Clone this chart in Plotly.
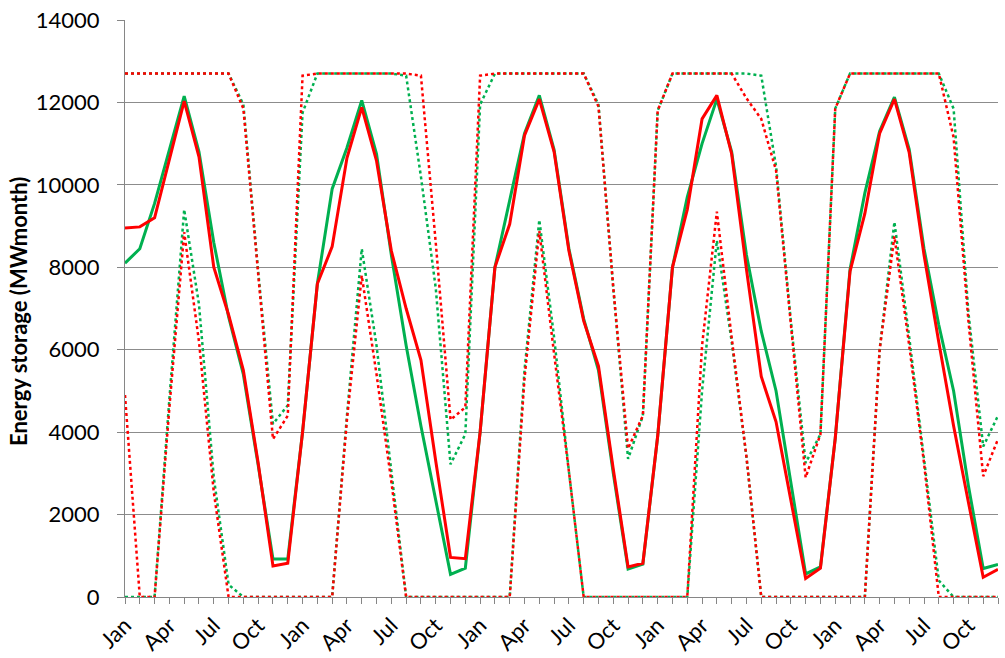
import plotly.graph_objects as go

# ---- data -----------------------------------------------------------------
month_names = ["Jan", "Feb", "Mar", "Apr", "May", "Jun",
               "Jul", "Aug", "Sep", "Oct", "Nov", "Dec"]
shown_labels = ["Jan", "Apr", "Jul", "Oct"]
n_years = 5

green_solid = [
    8100, 8450, 9550, 10850, 12150, 10800, 8600, 6800, 5400, 3200, 920, 920,
    4000, 7600, 9900, 10900, 12050, 10750, 8300, 6100, 4150, 2350, 550, 700,
    4000, 8000, 9650, 11250, 12170, 10850, 8450, 6750, 5500, 3000, 680, 800,
    3900, 8000, 9700, 11000, 12080, 10800, 8300, 6450, 5000, 2800, 560, 730,
    3850, 7950, 9800, 11300, 12130, 10860, 8450, 6600, 5000, 2700, 690, 790,
]
red_solid = [
    8950, 8980, 9200, 10650, 12030, 10680, 8000, 6850, 5500, 3250, 750, 820,
    4000, 7600, 8500, 10650, 11880, 10580, 8400, 7000, 5750, 3300, 960, 930,
    4000, 8000, 9050, 11200, 12080, 10800, 8400, 6700, 5600, 3100, 730, 820,
    3900, 8000, 9400, 11600, 12170, 10750, 7950, 5350, 4250, 2350, 450, 700,
    3850, 7900, 9300, 11250, 12080, 10780, 8300, 6180, 4150, 2300, 480, 670,
]
green_upper = [
    12700, 12700, 12700, 12700, 12700, 12700, 12700, 12700, 11950, 7900, 4200, 4650,
    11750, 12700, 12700, 12700, 12700, 12700, 12700, 12650, 10200, 7500, 3220, 3950,
    11950, 12700, 12700, 12700, 12700, 12700, 12700, 12700, 11950, 7500, 3350, 4400,
    11800, 12700, 12700, 12700, 12700, 12700, 12700, 12650, 10450, 6700, 3250, 3950,
    11850, 12700, 12700, 12700, 12700, 12700, 12700, 12700, 11850, 6900, 3650, 4400,
]
red_upper = [
    12700, 12700, 12700, 12700, 12700, 12700, 12700, 12700, 11850, 7800, 3830, 4400,
    12650, 12700, 12700, 12700, 12700, 12700, 12700, 12700, 12650, 8600, 4300, 4600,
    12650, 12700, 12700, 12700, 12700, 12700, 12700, 12700, 11900, 7500, 3600, 4400,
    11800, 12700, 12700, 12700, 12700, 12700, 12100, 11600, 10350, 6700, 2900, 3950,
    11850, 12700, 12700, 12700, 12700, 12700, 12700, 12700, 11150, 6700, 2930, 3830,
]
green_lower = [
    0, 0, 0, 4800, 9400, 7100, 2900, 300, 0, 0, 0, 0,
    0, 0, 0, 4400, 8450, 6100, 3000, 0, 0, 0, 0, 0,
    0, 0, 0, 5500, 9150, 6300, 3050, 0, 0, 0, 0, 0,
    0, 0, 0, 5000, 8650, 6200, 3400, 0, 0, 0, 0, 0,
    0, 0, 0, 6000, 9100, 6300, 3300, 400, 0, 0, 0, 0,
]
red_lower = [
    4900, 0, 0, 4600, 8850, 6200, 2550, 0, 0, 0, 0, 0,
    0, 0, 0, 4300, 7800, 5400, 2800, 0, 0, 0, 0, 0,
    0, 0, 0, 5300, 8880, 5900, 3050, 0, 0, 0, 0, 0,
    0, 0, 0, 6100, 9350, 6300, 3400, 0, 0, 0, 0, 0,
    0, 0, 0, 6000, 8750, 6100, 3250, 0, 0, 0, 0, 0,
]
y_ticks = [0, 2000, 4000, 6000, 8000, 10000, 12000, 14000]
y_tick_text = ["0", "2000", "4000", "6000", "8000", "10000", "12000", "14000"]
y_title = "Energy storage (MWmonth)"

# ---- figure ---------------------------------------------------------------
months = month_names * n_years
x = list(range(len(months)))
tick_text = [m if m in shown_labels else "" for m in months]

GREEN = "#00B050"
RED = "#FF0000"

fig = go.Figure()
for vals, col in [(green_upper, GREEN), (green_lower, GREEN),
                  (red_upper, RED), (red_lower, RED)]:
    fig.add_trace(go.Scatter(x=x, y=vals, mode="lines",
                             line=dict(color=col, width=2.5, dash="dot"),
                             hoverinfo="skip"))
for vals, col in [(green_solid, GREEN), (red_solid, RED)]:
    fig.add_trace(go.Scatter(x=x, y=vals, mode="lines",
                             line=dict(color=col, width=3),
                             hoverinfo="skip"))

fig.update_layout(
    width=1005, height=658,
    margin=dict(l=125, r=7, t=20, b=61),
    paper_bgcolor="white", plot_bgcolor="white",
    showlegend=False,
    font=dict(family="Lato, Arial, sans-serif", size=22, color="#000000"),
)
fig.update_xaxes(
    range=[0, len(months) - 1],
    tickmode="array", tickvals=x, ticktext=tick_text,
    tickangle=-45,
    ticks="outside", ticklen=6, tickcolor="#868686", tickwidth=1,
    showline=True, linecolor="#868686", linewidth=1,
    showgrid=False, zeroline=False,
    tickfont=dict(size=22),
    automargin=False,
    ticklabeloverflow="allow",
)
fig.update_yaxes(
    range=[0, 14000],
    tickmode="array", tickvals=y_ticks, ticktext=y_tick_text,
    ticks="outside", ticklen=7, tickcolor="#868686", tickwidth=1,
    showline=True, linecolor="#868686", linewidth=1,
    showgrid=True, gridcolor="#8C8C8C", gridwidth=1,
    zeroline=False,
    tickfont=dict(size=22),
    ticklabelstandoff=13,
    automargin=False,
    ticklabeloverflow="allow",
)
fig.add_annotation(
    text="<b>" + y_title + "</b>",
    xref="paper", yref="paper",
    x=(19 - 125) / 873, y=0.494,
    xanchor="center", yanchor="middle",
    textangle=-90, showarrow=False, borderpad=0,
    font=dict(size=22, color="#000000"),
)

# remove the browser's default 8px body margin so the figure fills the window
fig.write_html(
    "out.html",
    config={"displayModeBar": False},
    post_script="document.body.style.margin='0';document.body.style.padding='0';",
)
